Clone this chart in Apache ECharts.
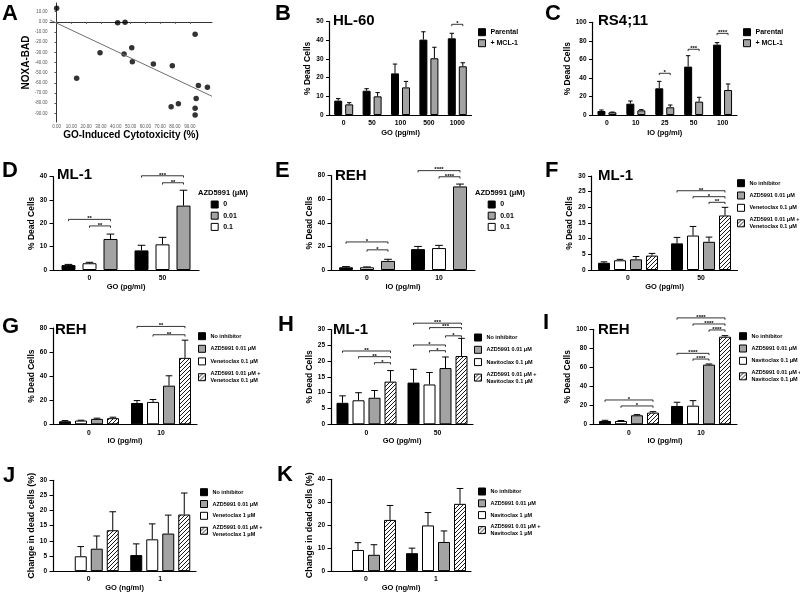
<!DOCTYPE html>
<html><head><meta charset="utf-8">
<script src="https://cdn.jsdelivr.net/npm/echarts@6/dist/echarts.min.js"></script>
<style>html,body{margin:0;padding:0;background:#fff}#c{width:800px;height:593px}</style>
</head><body><div id="c"></div>
<script>
// ================= DATA =================
// Panel A: scatter NOXA-BAD vs GO-induced cytotoxicity
const aCytotox = [0.1, 13.6, 29.4, 41.3, 46.3, 45.6, 50.8, 51.2, 65.4, 78.2, 77.4, 82.3, 93.6, 95.8, 94.3, 93.6, 93.6, 101.9];
const aNoxaBad = [13.3, -55.6, -30.3, -0.8, -0.4, -31.6, -25.4, -39.2, -41.5, -43.1, -83.5, -80.6, -12.2, -62.5, -75.3, -85.1, -91.7, -64.4];
const aFitX = [-4.4, 105];
const aFitY = [1.8, -73.2];
const aXTicks = [0, 10, 20, 30, 40, 50, 60, 70, 80, 90];
const aYTicks = [10, 0, -10, -20, -30, -40, -50, -60, -70, -80, -90];

// Panel B: HL-60
const bCats = ['0', '50', '100', '500', '1000'];
const bParental = [7.7, 13.0, 22.3, 40.4, 41.1];
const bParentalSem = [1.1, 1.1, 5.0, 4.2, 2.7];
const bMcl1 = [5.7, 10.0, 14.8, 30.4, 26.1];
const bMcl1Sem = [0.9, 2.0, 3.2, 5.9, 1.9];
const bSig = [[4, 0, 4, 1, 48.6, '*']];

// Panel C: RS4;11
const cCats = ['0', '10', '25', '50', '100'];
const cParental = [4.3, 12.2, 28.8, 52.2, 75.9];
const cParentalSem = [1.1, 2.9, 7.5, 11.8, 2.2];
const cMcl1 = [2.9, 5.0, 8.3, 14.4, 27.0];
const cMcl1Sem = [0.3, 0.8, 2.5, 4.7, 6.5];
const cSig = [[2, 0, 2, 1, 45.0, '*'], [3, 0, 3, 1, 70.9, '***'], [4, 0, 4, 1, 88.1, '****']];

// Panel D: ML-1, AZD5991
const dCats = ['0', '50'];
const dAzd0 = [2.1, 8.4];
const dAzd0Sem = [0.3, 2.2];
const dAzd01 = [2.9, 11.0];
const dAzd01Sem = [0.4, 3.0];
const dAzd001 = [13.3, 27.6];
const dAzd001Sem = [2.1, 6.6];
const dSig = [[0, 0, 0, 2, 21.7, '**'], [0, 1, 0, 2, 18.9, '**'], [1, 0, 1, 2, 40.4, '***'], [1, 1, 1, 2, 37.4, '**']];

// Panel E: REH, AZD5991
const eCats = ['0', '10'];
const eAzd0 = [2.3, 17.7];
const eAzd0Sem = [0.6, 2.3];
const eAzd01 = [2.3, 18.6];
const eAzd01Sem = [0.3, 2.3];
const eAzd001 = [7.7, 70.9];
const eAzd001Sem = [1.4, 2.0];
const eSig = [[0, 0, 0, 2, 23.8, '*'], [0, 1, 0, 2, 17.1, '*'], [1, 0, 1, 2, 84.3, '****'], [1, 1, 1, 2, 79.1, '****']];

// Panel F: ML-1, AZD5991 + venetoclax
const fCats = ['0', '50'];
const fNone = [2.3, 8.5];
const fNoneSem = [0.3, 1.9];
const fVen = [3.1, 11.0];
const fVenSem = [0.3, 2.9];
const fAzd = [3.4, 9.0];
const fAzdSem = [0.9, 1.5];
const fCombo = [4.6, 17.4];
const fComboSem = [0.7, 2.6];
const fSig = [[1, 0, 1, 3, 25.3, '**'], [1, 1, 1, 3, 23.4, '*'], [1, 2, 1, 3, 21.6, '**']];

// Panel G: REH, AZD5991 + venetoclax
const gCats = ['0', '10'];
const gNone = [2.5, 17.7];
const gNoneSem = [0.6, 2.0];
const gVen = [3.1, 18.6];
const gVenSem = [0.3, 2.0];
const gAzd = [4.5, 32.1];
const gAzdSem = [0.6, 8.2];
const gCombo = [5.1, 55.2];
const gComboSem = [0.8, 14.7];
const gSig = [[1, 0, 1, 3, 81.3, '**'], [1, 1, 1, 3, 74.4, '**']];

// Panel H: ML-1, AZD5991 + navitoclax
const hCats = ['0', '50'];
const hNone = [6.8, 13.2];
const hNoneSem = [2.2, 4.2];
const hNav = [7.6, 12.6];
const hNavSem = [2.4, 3.8];
const hAzd = [8.4, 17.8];
const hAzdSem = [2.3, 3.5];
const hCombo = [13.5, 21.6];
const hComboSem = [3.5, 5.6];
const hSig = [[0, 0, 0, 3, 23.2, '**'], [0, 1, 0, 3, 21.4, '**'], [0, 2, 0, 3, 19.5, '*'],
              [1, 0, 1, 3, 32.0, '***'], [1, 1, 1, 3, 30.6, '***'], [1, 2, 1, 3, 28.0, '*'],
              [1, 0, 1, 2, 25.1, '*'], [1, 1, 1, 2, 23.3, '*']];

// Panel I: REH, AZD5991 + navitoclax
const iCats = ['0', '10'];
const iNone = [3.5, 19.3];
const iNoneSem = [0.7, 3.9];
const iNav = [3.5, 19.6];
const iNavSem = [0.5, 5.3];
const iAzd = [9.5, 62.8];
const iAzdSem = [0.7, 0.7];
const iCombo = [12.3, 92.2];
const iComboSem = [1.0, 1.1];
const iSig = [[0, 0, 0, 3, 25.6, '*'], [0, 1, 0, 3, 19.3, '*'],
              [1, 0, 1, 3, 112.0, '****'], [1, 1, 1, 3, 105.6, '****'], [1, 2, 1, 3, 99.3, '****'],
              [1, 0, 1, 2, 74.7, '****'], [1, 1, 1, 2, 68.7, '****']];

// Panel J: change in dead cells, venetoclax 1 uM
const jCats = ['0', '1'];
const jNone = [null, 5.3];
const jNoneSem = [null, 3.7];
const jVen = [4.9, 10.5];
const jVenSem = [3.2, 5.1];
const jAzd = [7.4, 12.4];
const jAzdSem = [4.2, 6.1];
const jCombo = [13.5, 18.7];
const jComboSem = [6.1, 7.1];

// Panel K: change in dead cells, navitoclax 1 uM
const kCats = ['0', '1'];
const kNone = [null, 7.8];
const kNoneSem = [null, 2.2];
const kNav = [9.2, 19.9];
const kNavSem = [3.2, 5.6];
const kAzd = [7.1, 12.7];
const kAzdSem = [4.4, 4.8];
const kCombo = [22.3, 29.3];
const kComboSem = [6.3, 6.7];

// ================= BUILD =================
const FONT = '"Liberation Sans", Arial, Helvetica, sans-serif';
function ts(fs, extra) { return Object.assign({ fontFamily: FONT, fontWeight: 'bold', fontSize: fs, color: '#000' }, extra || {}); }

const hc = document.createElement('canvas'); hc.width = 4; hc.height = 4;
(function () {
  const g = hc.getContext('2d');
  g.fillStyle = '#fff'; g.fillRect(0, 0, 4, 4);
  g.strokeStyle = '#000'; g.lineWidth = 0.9;
  g.beginPath();
  g.moveTo(0, 4); g.lineTo(4, 0);
  g.moveTo(-1, 1); g.lineTo(1, -1);
  g.moveTo(3, 5); g.lineTo(5, 3);
  g.stroke();
})();
const FILL = { black: '#000', gray: '#a3a3a3', white: '#fff', hatch: { image: hc, repeat: 'repeat' } };

const grids = [], xAxes = [], yAxes = [], series = [], legends = [], titles = [];

function addTitle(text, left, capTop, fs) {
  titles.push({ text: text, left: left, top: capTop - 0.09 * fs, padding: 0, textStyle: ts(fs) });
}

function addBarPanel(p) {
  const gi = grids.length;
  grids.push({ left: p.left, top: p.top, width: p.width, height: p.height });
  xAxes.push({
    gridIndex: gi, type: 'category', data: p.cats,
    name: p.xName, nameLocation: 'middle', nameGap: p.xNameGap, nameTextStyle: ts(7.5),
    axisLine: { lineStyle: { color: '#000', width: 1.2 } },
    axisTick: { alignWithLabel: true, length: 3, lineStyle: { color: '#000', width: 1 } },
    axisLabel: Object.assign(ts(6.8), { margin: 5 })
  });
  yAxes.push({
    gridIndex: gi, type: 'value', min: p.min, max: p.max, interval: p.interval,
    name: p.yName, nameLocation: 'middle', nameGap: p.yNameGap || 14.5, nameTextStyle: ts(p.yNameSize || 8.5),
    axisLine: { show: true, lineStyle: { color: '#000', width: 1.2 } },
    axisTick: { show: true, length: 3.5, lineStyle: { color: '#000', width: 1 } },
    splitLine: { show: false },
    axisLabel: Object.assign(ts(6.5), { margin: 6 })
  });
  const n = p.bars.length, pitch = p.bw + p.gap;
  p.bars.forEach(function (b) {
    series.push({
      type: 'bar', name: b.name, xAxisIndex: gi, yAxisIndex: gi, data: b.values,
      barWidth: p.bw, barGap: (p.gap / p.bw * 100) + '%', silent: true,
      itemStyle: { color: FILL[b.fill], borderColor: '#000', borderWidth: 1 }
    });
  });
  const err = [];
  p.bars.forEach(function (b, i) {
    b.values.forEach(function (v, k) { if (v != null && b.sem[k] != null) err.push([k, v, v + b.sem[k], i]); });
  });
  series.push({
    type: 'custom', xAxisIndex: gi, yAxisIndex: gi, data: err, clip: false, silent: true, z: 5,
    encode: { x: 0, y: 2 },
    renderItem: function (params, api) {
      const k = api.value(0), v = api.value(1), top = api.value(2), i = api.value(3);
      const c0 = api.coord([k, v]), c1 = api.coord([k, top]);
      const x = c0[0] + (i - (n - 1) / 2) * pitch;
      const cap = p.bw * 0.55 / 2;
      return { type: 'group', children: [
        { type: 'line', shape: { x1: x, y1: c0[1], x2: x, y2: c1[1] }, style: { stroke: '#000', lineWidth: 1 } },
        { type: 'line', shape: { x1: x - cap, y1: c1[1], x2: x + cap, y2: c1[1] }, style: { stroke: '#000', lineWidth: 1 } }
      ] };
    }
  });
  if (p.sig) {
    const sig = p.sig;
    series.push({
      type: 'custom', xAxisIndex: gi, yAxisIndex: gi, clip: false, silent: true, z: 6,
      data: sig.map(function (s) { return [s[0], s[4], s[2], s[1], s[3]]; }),
      encode: { x: 0, y: 1 },
      renderItem: function (params, api) {
        const s = sig[params.dataIndex];
        const a = api.coord([s[0], s[4]]), b = api.coord([s[2], s[4]]);
        const x1 = a[0] + (s[1] - (n - 1) / 2) * pitch, x2 = b[0] + (s[3] - (n - 1) / 2) * pitch;
        const y = a[1];
        return { type: 'group', children: [
          { type: 'polyline', shape: { points: [[x1, y + 1.8], [x1, y], [x2, y], [x2, y + 1.8]] }, style: { stroke: '#000', lineWidth: 0.8, fill: null } },
          { type: 'text', style: { text: s[5], x: (x1 + x2) / 2, y: y + 2.2, align: 'center', verticalAlign: 'bottom', font: 'bold 6px ' + FONT, fill: '#000' } }
        ] };
      }
    });
  }
  if (p.legend) {
    legends.push({
      data: p.bars.map(function (b) { return b.name; }).filter(function () { return true; }),
      left: p.legend.left, top: p.legend.top, orient: 'vertical', padding: 0,
      itemWidth: 7, itemHeight: 7, itemGap: p.legend.gap, selectedMode: false, icon: 'rect',
      itemStyle: { borderColor: '#000', borderWidth: 1 },
      textStyle: ts(p.legend.fs, { lineHeight: p.legend.lh || 7 })
    });
    if (p.legend.order) legends[legends.length - 1].data = p.legend.order;
  }
}

// ---- Panel A (scatter) ----
grids.push({ left: 50, top: 3, width: 162, height: 119 });
xAxes.push({
  gridIndex: 0, type: 'value', min: -4.4, max: 105,
  name: 'GO-Induced Cytotoxicity (%)', nameLocation: 'middle', nameGap: 8, nameTextStyle: ts(10),
  axisLine: { lineStyle: { color: '#333', width: 1 } },
  axisTick: { show: true, customValues: aXTicks, length: 2, lineStyle: { color: '#555' } },
  splitLine: { show: false },
  axisLabel: { customValues: aXTicks, formatter: function (v) { return v.toFixed(2); }, fontSize: 4.5, color: '#555', fontFamily: FONT, margin: 2.5 }
});
yAxes.push({
  gridIndex: 0, type: 'value', min: -98.5, max: 18.5,
  name: 'NOXA-BAD', nameLocation: 'middle', nameGap: 15, nameTextStyle: ts(10),
  axisLine: { show: true, lineStyle: { color: '#333', width: 1 } },
  axisTick: { show: true, customValues: aYTicks, length: 2, lineStyle: { color: '#555' } },
  splitLine: { show: false },
  axisLabel: { customValues: aYTicks, formatter: function (v) { return v.toFixed(2); }, fontSize: 4.5, color: '#555', fontFamily: FONT, margin: 2.5 }
});
series.push({
  type: 'scatter', name: 'cases', xAxisIndex: 0, yAxisIndex: 0, symbolSize: 5.5, silent: true,
  itemStyle: { color: '#000' },
  data: aCytotox.map(function (x, i) { return [x, aNoxaBad[i]]; })
});
series.push({
  type: 'line', name: 'fit', xAxisIndex: 0, yAxisIndex: 0, symbol: 'none', silent: true,
  lineStyle: { color: '#6e6e6e', width: 1 },
  data: aFitX.map(function (x, i) { return [x, aFitY[i]]; })
});

// ---- Panel B ----
addBarPanel({ left: 329.5, top: 21.7, width: 142, height: 93.3, cats: bCats, min: 0, max: 50, interval: 10,
  bw: 8, gap: 3, xName: 'GO (pg/ml)', xNameGap: 14, yName: '% Dead Cells',
  bars: [{ name: 'Parental', values: bParental, sem: bParentalSem, fill: 'black' },
         { name: '+ MCL-1', values: bMcl1, sem: bMcl1Sem, fill: 'gray' }],
  sig: bSig, legend: { left: 478, top: 28.2, gap: 3, fs: 7 } });

// ---- Panel C ----
addBarPanel({ left: 592.5, top: 22.3, width: 144.5, height: 92.7, cats: cCats, min: 0, max: 100, interval: 20,
  bw: 8, gap: 3, xName: 'IO (pg/ml)', xNameGap: 14, yName: '% Dead Cells',
  bars: [{ name: 'Parental', values: cParental, sem: cParentalSem, fill: 'black' },
         { name: '+ MCL-1', values: cMcl1, sem: cMcl1Sem, fill: 'gray' }],
  sig: cSig, legend: { left: 743, top: 28.2, gap: 3, fs: 7 } });

// ---- Panel D ----
addBarPanel({ left: 53, top: 176.7, width: 146, height: 93.3, cats: dCats, min: 0, max: 40, interval: 10,
  bw: 14, gap: 7, xName: 'GO (pg/ml)', xNameGap: 11, yName: '% Dead Cells',
  bars: [{ name: '0', values: dAzd0, sem: dAzd0Sem, fill: 'black' },
         { name: '0.1', values: dAzd01, sem: dAzd01Sem, fill: 'white' },
         { name: '0.01', values: dAzd001, sem: dAzd001Sem, fill: 'gray' }],
  sig: dSig, legend: { left: 210.7, top: 200.5, gap: 3.2, fs: 7, order: ['0', '0.01', '0.1'] } });

// ---- Panel E ----
addBarPanel({ left: 331, top: 175.7, width: 144, height: 94.3, cats: eCats, min: 0, max: 80, interval: 20,
  bw: 14, gap: 7, xName: 'IO (pg/ml)', xNameGap: 11, yName: '% Dead Cells',
  bars: [{ name: '0', values: eAzd0, sem: eAzd0Sem, fill: 'black' },
         { name: '0.1', values: eAzd01, sem: eAzd01Sem, fill: 'white' },
         { name: '0.01', values: eAzd001, sem: eAzd001Sem, fill: 'gray' }],
  sig: eSig, legend: { left: 487.7, top: 200.5, gap: 3.2, fs: 7, order: ['0', '0.01', '0.1'] } });

const VEN_COMBO = 'AZD5991 0.01 μM +\nVenetoclax 0.1 μM';
const NAV_COMBO = 'AZD5991 0.01 μM +\nNavitoclax 0.1 μM';
const VEN1_COMBO = 'AZD5991 0.01 μM +\nVenetoclax 1 μM';
const NAV1_COMBO = 'AZD5991 0.01 μM +\nNavitoclax 1 μM';

// ---- Panel F ----
addBarPanel({ left: 591.5, top: 176, width: 146, height: 94, cats: fCats, min: 0, max: 30, interval: 5,
  bw: 12, gap: 4, xName: 'GO (pg/ml)', xNameGap: 10.5, yName: '% Dead Cells',
  bars: [{ name: 'No inhibitor', values: fNone, sem: fNoneSem, fill: 'black' },
         { name: 'Venetoclax 0.1 μM', values: fVen, sem: fVenSem, fill: 'white' },
         { name: 'AZD5991 0.01 μM', values: fAzd, sem: fAzdSem, fill: 'gray' },
         { name: VEN_COMBO, values: fCombo, sem: fComboSem, fill: 'hatch' }],
  sig: fSig, legend: { left: 737, top: 179.2, gap: 4.3, fs: 5.5, lh: 7.2, order: ['No inhibitor', 'AZD5991 0.01 μM', 'Venetoclax 0.1 μM', VEN_COMBO] } });

// ---- Panel G ----
addBarPanel({ left: 53, top: 328, width: 144, height: 96.3, cats: gCats, min: 0, max: 80, interval: 20,
  bw: 12, gap: 4, xName: 'IO (pg/ml)', xNameGap: 10, yName: '% Dead Cells',
  bars: [{ name: 'No inhibitor', values: gNone, sem: gNoneSem, fill: 'black' },
         { name: 'Venetoclax 0.1 μM', values: gVen, sem: gVenSem, fill: 'white' },
         { name: 'AZD5991 0.01 μM', values: gAzd, sem: gAzdSem, fill: 'gray' },
         { name: VEN_COMBO, values: gCombo, sem: gComboSem, fill: 'hatch' }],
  sig: gSig, legend: { left: 198, top: 332.2, gap: 4.6, fs: 5.5, lh: 7.2, order: ['No inhibitor', 'AZD5991 0.01 μM', 'Venetoclax 0.1 μM', VEN_COMBO] } });

// ---- Panel H ----
addBarPanel({ left: 331, top: 329.5, width: 142, height: 94.8, cats: hCats, min: 0, max: 30, interval: 5,
  bw: 12, gap: 4, xName: 'GO (pg/ml)', xNameGap: 11, yName: '% Dead Cells',
  bars: [{ name: 'No inhibitor', values: hNone, sem: hNoneSem, fill: 'black' },
         { name: 'Navitoclax 0.1 μM', values: hNav, sem: hNavSem, fill: 'white' },
         { name: 'AZD5991 0.01 μM', values: hAzd, sem: hAzdSem, fill: 'gray' },
         { name: NAV_COMBO, values: hCombo, sem: hComboSem, fill: 'hatch' }],
  sig: hSig, legend: { left: 474, top: 333.5, gap: 4.3, fs: 5.5, lh: 7.2, order: ['No inhibitor', 'AZD5991 0.01 μM', 'Navitoclax 0.1 μM', NAV_COMBO] } });

// ---- Panel I ----
addBarPanel({ left: 593, top: 329.3, width: 144, height: 95, cats: iCats, min: 0, max: 100, interval: 20,
  bw: 12, gap: 4, xName: 'IO (pg/ml)', xNameGap: 11, yName: '% Dead Cells',
  bars: [{ name: 'No inhibitor', values: iNone, sem: iNoneSem, fill: 'black' },
         { name: 'Navitoclax 0.1 μM', values: iNav, sem: iNavSem, fill: 'white' },
         { name: 'AZD5991 0.01 μM', values: iAzd, sem: iAzdSem, fill: 'gray' },
         { name: NAV_COMBO, values: iCombo, sem: iComboSem, fill: 'hatch' }],
  sig: iSig, legend: { left: 739, top: 332.2, gap: 4.3, fs: 5.5, lh: 7.2, order: ['No inhibitor', 'AZD5991 0.01 μM', 'Navitoclax 0.1 μM', NAV_COMBO] } });

// ---- Panel J ----
addBarPanel({ left: 53, top: 480.3, width: 143, height: 93, cats: jCats, min: 0, max: 30, interval: 5,
  bw: 12, gap: 4, xName: 'GO (ng/ml)', xNameGap: 11.7, yName: 'Change in dead cells (%)', yNameSize: 9,
  bars: [{ name: 'No inhibitor', values: jNone, sem: jNoneSem, fill: 'black' },
         { name: 'Venetoclax 1 μM', values: jVen, sem: jVenSem, fill: 'white' },
         { name: 'AZD5991 0.01 μM', values: jAzd, sem: jAzdSem, fill: 'gray' },
         { name: VEN1_COMBO, values: jCombo, sem: jComboSem, fill: 'hatch' }],
  legend: { left: 200, top: 488.2, gap: 3.8, fs: 5.5, lh: 7.2, order: ['No inhibitor', 'AZD5991 0.01 μM', 'Venetoclax 1 μM', VEN1_COMBO] } });

// ---- Panel K ----
addBarPanel({ left: 331, top: 479.3, width: 140, height: 93.4, cats: kCats, min: 0, max: 40, interval: 10,
  bw: 12, gap: 4, xName: 'GO (ng/ml)', xNameGap: 11.6, yName: 'Change in dead cells (%)', yNameSize: 9,
  bars: [{ name: 'No inhibitor', values: kNone, sem: kNoneSem, fill: 'black' },
         { name: 'Navitoclax 1 μM', values: kNav, sem: kNavSem, fill: 'white' },
         { name: 'AZD5991 0.01 μM', values: kAzd, sem: kAzdSem, fill: 'gray' },
         { name: NAV1_COMBO, values: kCombo, sem: kComboSem, fill: 'hatch' }],
  legend: { left: 478, top: 487.5, gap: 3.8, fs: 5.5, lh: 7.2, order: ['No inhibitor', 'AZD5991 0.01 μM', 'Navitoclax 1 μM', NAV1_COMBO] } });

// ---- Titles ----
[['A', 2, 5], ['B', 275, 5], ['C', 545, 5], ['D', 2, 162], ['E', 275, 162], ['F', 545, 162],
 ['G', 2, 318], ['H', 278, 316], ['I', 543, 314], ['J', 3, 467], ['K', 277, 466]].forEach(function (t) { addTitle(t[0], t[1], t[2], 22); });
[['HL-60', 333, 15], ['RS4;11', 598, 15], ['ML-1', 57, 168.5], ['REH', 335, 170], ['ML-1', 598, 170],
 ['REH', 55, 323.5], ['ML-1', 333, 323.5], ['REH', 598, 323.5]].forEach(function (t) { addTitle(t[0], t[1], t[2], 15); });
addTitle('AZD5991 (μM)', 198, 190, 7.5);
addTitle('AZD5991 (μM)', 475, 190, 7.5);

const chart = echarts.init(document.getElementById('c'), null, { renderer: 'canvas' });
chart.setOption({
  animation: false, backgroundColor: '#fff',
  title: titles, grid: grids, xAxis: xAxes, yAxis: yAxes, legend: legends, series: series
});
</script></body></html>
